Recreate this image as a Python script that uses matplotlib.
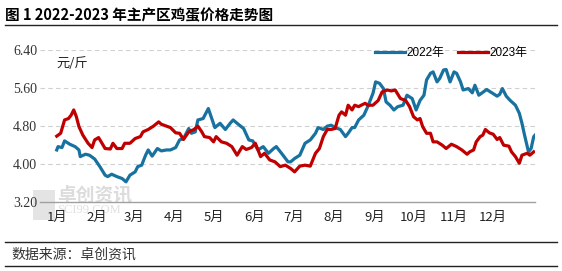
import numpy as np
import matplotlib.pyplot as plt
from matplotlib.lines import Line2D
from matplotlib.patches import Rectangle

plt.rcParams['font.family'] = ['Noto Sans CJK SC', 'DejaVu Sans']

# day of year / price (yuan per jin)
days_2022 = [0, 1, 4, 6, 10, 14, 17, 18, 22, 25, 29, 33, 37, 39, 42, 46, 50, 53, 56, 60,
             62, 65, 68, 70, 73, 77, 80, 84, 87, 91, 94, 97, 101, 103, 106, 108, 112, 116,
             119, 121, 125, 129, 133, 135, 138, 143, 147, 150, 154, 158, 162, 166, 168, 172,
             177, 179, 182, 186, 190, 194, 198, 200, 204, 207, 210, 213, 217, 221, 223, 226,
             228, 231, 235, 238, 242, 244, 247, 250, 252, 255, 258, 261, 265, 268, 272, 275,
             278, 281, 283, 286, 288, 291, 293, 296, 298, 301, 304, 306, 309, 311, 315, 318,
             320, 323, 325, 329, 333, 337, 339, 341, 344, 347, 351, 354, 356, 358, 361, 363,
             365, 366]
price_2022 = [4.30, 4.37, 4.35, 4.49, 4.42, 4.37, 4.30, 4.16, 4.21, 4.19, 4.11, 3.95, 3.77,
              3.74, 3.79, 3.74, 3.70, 3.63, 3.77, 3.84, 3.95, 3.98, 4.19, 4.30, 4.17, 4.33,
              4.28, 4.30, 4.30, 4.35, 4.51, 4.54, 4.75, 4.65, 4.68, 4.93, 4.96, 5.17, 4.93,
              4.77, 4.86, 4.73, 4.87, 4.93, 4.86, 4.75, 4.51, 4.49, 4.30, 4.37, 4.23, 4.33,
              4.37, 4.23, 4.05, 4.05, 4.12, 4.19, 4.44, 4.51, 4.65, 4.77, 4.73, 4.80, 4.82,
              4.77, 4.73, 4.58, 4.65, 4.77, 4.77, 4.93, 5.03, 5.21, 5.49, 5.73, 5.70, 5.59,
              5.31, 5.24, 5.14, 5.21, 5.24, 5.45, 5.38, 5.14, 5.34, 5.45, 5.77, 5.91, 5.94,
              5.73, 5.80, 5.98, 5.99, 5.73, 5.94, 5.91, 5.73, 5.56, 5.59, 5.50, 5.66, 5.45,
              5.49, 5.57, 5.50, 5.43, 5.47, 5.59, 5.43, 5.34, 5.24, 5.07, 4.86, 4.61, 4.26,
              4.33, 4.58, 4.61]

days_2023 = [0, 3, 6, 9, 11, 13, 15, 17, 20, 24, 27, 29, 32, 34, 37, 41, 43, 46, 50, 52,
             56, 60, 64, 66, 70, 74, 78, 80, 84, 87, 91, 94, 97, 101, 105, 108, 111, 113,
             117, 120, 122, 126, 130, 134, 138, 142, 145, 149, 152, 156, 159, 163, 167, 171,
             175, 179, 182, 186, 190, 194, 198, 201, 204, 207, 210, 213, 216, 218, 221, 223,
             226, 228, 231, 233, 236, 238, 242, 246, 249, 253, 256, 259, 263, 267, 270, 273,
             276, 278, 280, 283, 286, 288, 291, 295, 298, 302, 306, 310, 314, 316, 319, 321,
             324, 326, 328, 331, 334, 337, 339, 342, 346, 348, 351, 354, 356, 360, 362, 365]
price_2023 = [4.59, 4.65, 4.93, 4.96, 5.03, 5.14, 5.00, 4.79, 4.61, 4.44, 4.35, 4.51, 4.56,
              4.47, 4.33, 4.32, 4.44, 4.33, 4.33, 4.44, 4.44, 4.54, 4.58, 4.68, 4.73, 4.80,
              4.89, 4.84, 4.80, 4.77, 4.66, 4.65, 4.52, 4.68, 4.73, 4.80, 4.68, 4.58, 4.56,
              4.47, 4.58, 4.47, 4.44, 4.37, 4.19, 4.37, 4.31, 4.35, 4.44, 4.16, 4.23, 4.09,
              4.05, 3.95, 3.98, 3.91, 3.84, 3.96, 3.98, 3.96, 4.23, 4.33, 4.58, 4.73, 4.73,
              4.75, 5.03, 5.10, 5.03, 5.24, 5.14, 5.24, 5.21, 5.24, 5.28, 5.24, 5.24, 5.34,
              5.52, 5.56, 5.54, 5.56, 5.38, 5.34, 5.21, 5.00, 4.93, 4.96, 4.79, 4.65, 4.65,
              4.47, 4.47, 4.40, 4.33, 4.42, 4.37, 4.30, 4.21, 4.26, 4.30, 4.47, 4.58, 4.61,
              4.73, 4.66, 4.63, 4.52, 4.56, 4.40, 4.38, 4.26, 4.16, 4.02, 4.19, 4.23, 4.19,
              4.26]

month_starts = [0, 31, 59, 90, 120, 151, 181, 212, 243, 273, 304, 334]
month_labels = ['1月', '2月', '3月', '4月', '5月', '6月', '7月', '8月', '9月', '10月', '11月', '12月']
y_ticks = [3.20, 4.00, 4.80, 5.60, 6.40]

blue = '#17729f'
red = '#c00000'

fig = plt.figure(figsize=(5.62, 2.71), dpi=100)
ax = fig.add_axes([0.0712, 0.2535, 0.8808, 0.562])
ax.set_zorder(2)

# watermark (behind the chart)
fig.patches.append(Rectangle((0.059, 0.188), 0.039, 0.111, transform=fig.transFigure,
                             facecolor='#e4e4e4', edgecolor='none', hatch='..', zorder=0))
fig.text(0.102, 0.279, '卓创资讯', fontsize=13.5, color='#dcdcdc', weight='bold', va='center', zorder=0)
fig.text(0.102, 0.226, 'SCI99.COM', fontsize=9, color='#e0e0e0', va='center',
         family='Liberation Serif', zorder=0)

ax.plot(days_2022, price_2022, color=blue, lw=2.3, solid_joinstyle='round', zorder=3)
ax.plot(days_2023, price_2023, color=red, lw=2.3, solid_joinstyle='round', zorder=3)

ax.set_xlim(-12.8, 366)
ax.set_ylim(3.2, 6.4)
ax.set_yticks(y_ticks)
ax.set_yticklabels(['%.2f' % v for v in y_ticks], fontsize=10, family='Liberation Serif', color='#333333')
ax.set_xticks(month_starts)
ax.set_xticklabels(month_labels, fontsize=9.5, color='#222222', family=['Noto Sans CJK SC'])
ax.tick_params(length=0)
ax.tick_params(axis='x', pad=6)
ax.tick_params(axis='y', pad=2)
ax.patch.set_alpha(0)
for v in y_ticks[1:]:
    ax.axhline(v, color='#d0d0d0', lw=0.8, ls=(0, (4, 3)), zorder=1)
for s in ['top', 'right', 'left']:
    ax.spines[s].set_visible(False)
ax.spines['bottom'].set_color('#a0a0a0')
ax.spines['bottom'].set_linewidth(1.0)

ax.text(0, 6.12, '元/斤', fontsize=9.5, color='#222222', va='center')

handles = [Line2D([], [], color=blue, lw=2.3), Line2D([], [], color=red, lw=2.3)]
ax.legend(handles, ['2022年', '2023年'], loc='center right', bbox_to_anchor=(0.985, 0.98), ncol=2,
          frameon=False, handlelength=2.5, handletextpad=0.15, columnspacing=1.2,
          borderpad=0, borderaxespad=0,
          prop={'family': ['Liberation Sans', 'Noto Sans CJK SC'], 'size': 8.5})

fig.text(0.009, 0.945, '图 1 2022-2023 年主产区鸡蛋价格走势图', fontsize=10.5, weight='bold', va='center')
fig.add_artist(Line2D([0.009, 0.991], [0.907, 0.907], color='#222222', lw=1.0))
fig.add_artist(Line2D([0.009, 0.991], [0.106, 0.106], color='#222222', lw=1.0))
fig.add_artist(Line2D([0.009, 0.991], [0.019, 0.019], color='#222222', lw=1.0))
fig.text(0.021, 0.059, '数据来源：卓创资讯', fontsize=10, color='#333333', va='center')

fig.savefig('out.png', dpi=100)
